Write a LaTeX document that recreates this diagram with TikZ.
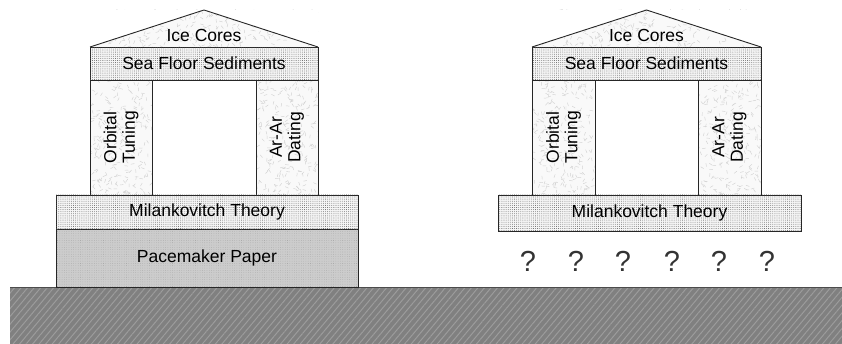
\documentclass[tikz,border=0pt]{standalone}
\usepackage{fontspec}
\setmainfont{Liberation Sans}
\usetikzlibrary{patterns.meta}
\newcommand\mytexture[4]{%
  \begin{scope}
    \clip (#1,#2) rectangle (#3,#4);
    \pgfmathsetmacro\nn{int(((#3-#1)*(#4-#2))/28)}
    \foreach \k in {1,...,\nn}{
      \pgfmathsetmacro\px{#1+rnd*(#3-#1)}
      \pgfmathsetmacro\py{#2+rnd*(#4-#2)}
      \pgfmathsetmacro\an{rnd*360}
      \draw[gray!35, line width=0.45pt] (\px,\py) -- ++(\an:3.5);
    }
  \end{scope}}
\tikzset{
  blk/.style={draw=black!85, line width=0.9pt, inner sep=0pt},
  dotband/.style={blk, fill=gray!8, postaction={pattern={Dots[distance=2.1pt,radius=0.42pt]}, pattern color=black!65}},
  pacemaker/.style={blk, fill=gray!40, postaction={pattern={Dots[distance=2.3pt,radius=0.3pt]}, pattern color=gray!80}},
  lbl/.style={font=\fontsize{17.5}{19}\selectfont, text=black},
  collbl/.style={lbl, rotate=90, align=center, font=\fontsize{17.5}{18.5}\selectfont},
  qm/.style={font=\fontsize{29}{30}\selectfont, text=black!80},
  outline/.style={draw=black!85, line width=0.9pt},
}
\begin{document}
\begin{tikzpicture}[x=1pt,y=-1pt]
\pgfmathsetseed{7}
\useasboundingbox (0,0) rectangle (842,344);
% ground
\path[fill=gray, postaction={pattern={Lines[angle=50,distance=5pt,line width=1pt]}, pattern color=gray!78}] (10,287) rectangle (842,344);
\draw[black!70, line width=1pt] (10,287) -- (842,287);

% ===== left temple =====
\fill[gray!5] (90,47) -- (204,10) -- (318,47) -- cycle;
\mytexture{90}{10}{318}{47}
\fill[white] (90,10) -- (204,10) -- (90,47) -- cycle;
\fill[white] (318,10) -- (204,10) -- (318,47) -- cycle;
\draw[outline] (90,47) -- (204,10) -- (318,47);
\node[lbl] (ice1) at (204,35) {Ice Cores};

\fill[gray!5] (90,80) rectangle (152,195);
\mytexture{90}{80}{152}{195}
\fill[gray!5] (256,80) rectangle (318,195);
\mytexture{256}{80}{318}{195}
\node[blk, minimum width=62pt, minimum height=115pt] (colL1) at (121,137.5) {};
\node[blk, minimum width=62pt, minimum height=115pt] (colR1) at (287,137.5) {};
\node[collbl] (orb1) at (colL1.center) {Orbital\\Tuning};
\node[collbl] (ar1) at (colR1.center) {Ar-Ar\\Dating};

\node[dotband, minimum width=228pt, minimum height=33pt] (sea1) at (204,63.5) {};
\node[lbl] at (sea1.center) {Sea Floor Sediments};

\node[dotband, minimum width=302pt, minimum height=34pt] (mil1) at (207,212) {};
\node[lbl] at (mil1.center) {Milankovitch Theory};

\node[pacemaker, minimum width=302pt, minimum height=58pt] (pace) at (207,258) {};
\node[lbl] at (pace.center) {Pacemaker Paper};

% ===== right temple =====
\fill[gray!5] (532,47) -- (646.5,10) -- (761,47) -- cycle;
\mytexture{532}{10}{761}{47}
\fill[white] (532,10) -- (646.5,10) -- (532,47) -- cycle;
\fill[white] (761,10) -- (646.5,10) -- (761,47) -- cycle;
\draw[outline] (532,47) -- (646.5,10) -- (761,47);
\node[lbl] (ice2) at (646.5,35) {Ice Cores};

\fill[gray!5] (532,80) rectangle (595,195);
\mytexture{532}{80}{595}{195}
\fill[gray!5] (698,80) rectangle (761,195);
\mytexture{698}{80}{761}{195}
\node[blk, minimum width=63pt, minimum height=115pt] (colL2) at (563.5,137.5) {};
\node[blk, minimum width=63pt, minimum height=115pt] (colR2) at (729.5,137.5) {};
\node[collbl] (orb2) at (colL2.center) {Orbital\\Tuning};
\node[collbl] (ar2) at (colR2.center) {Ar-Ar\\Dating};

\node[dotband, minimum width=229pt, minimum height=33pt] (sea2) at (646.5,63.5) {};
\node[lbl] at (sea2.center) {Sea Floor Sediments};

\node[dotband, minimum width=303pt, minimum height=36pt] (mil2) at (649.5,213) {};
\node[lbl] at (mil2.center) {Milankovitch Theory};

\foreach \qx [count=\qi] in {528,576,623,672,719,767}{
  \node[qm] (q\qi) at (\qx,261) {?};
}
\end{tikzpicture}
\end{document}
